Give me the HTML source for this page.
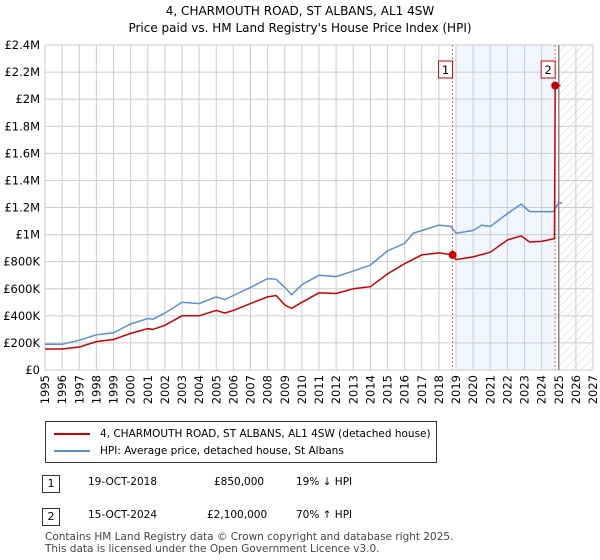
<!DOCTYPE html>
<html><head><meta charset="utf-8"><style>
body{margin:0;background:#fff;font-family:"DejaVu Sans","Liberation Sans",sans-serif;}
#wrap{position:relative;width:600px;height:560px;overflow:hidden}
.t{position:absolute;font-size:11px;color:#000}
</style></head><body><div id="wrap">
<svg id="c" width="600" height="410" style="position:absolute;left:0;top:0;font-family:'DejaVu Sans','Liberation Sans',sans-serif"></svg>
<div style="position:absolute;left:45px;top:421px;width:392px;height:42px;border:1px solid #333;box-sizing:border-box">
 <div style="position:absolute;left:8px;top:6px;font-size:10.5px;white-space:nowrap"><span style="display:inline-block;width:36px;border-top:2px solid #cc0000;vertical-align:middle;margin-right:10px"></span>4, CHARMOUTH ROAD, ST ALBANS, AL1 4SW (detached house)</div>
 <div style="position:absolute;left:8px;top:23px;font-size:10.5px;white-space:nowrap"><span style="display:inline-block;width:36px;border-top:2px solid #5b8fd4;vertical-align:middle;margin-right:10px"></span>HPI: Average price, detached house, St Albans</div>
</div>
<div>
<div style="position:absolute;left:42px;top:475px;width:16px;height:16px;border:1px solid #333;font-size:11px;text-align:center;line-height:16px">1</div>
<div class="t" style="left:88px;top:476px;font-size:10.5px">19-OCT-2018</div>
<div class="t" style="left:214px;top:476px;font-size:10.5px">£850,000</div>
<div class="t" style="left:296px;top:476px;font-size:10.5px">19% ↓ HPI</div></div>
<div>
<div style="position:absolute;left:42px;top:508px;width:16px;height:16px;border:1px solid #333;font-size:11px;text-align:center;line-height:16px">2</div>
<div class="t" style="left:88px;top:509px;font-size:10.5px">15-OCT-2024</div>
<div class="t" style="left:207px;top:509px;font-size:10.5px">£2,100,000</div>
<div class="t" style="left:296px;top:509px;font-size:10.5px">70% ↑ HPI</div></div>
<div class="t" style="left:45px;top:531px;font-size:10.5px;color:#444;line-height:12px">Contains HM Land Registry data © Crown copyright and database right 2025.<br>This data is licensed under the Open Government Licence v3.0.</div>
</div>
<script>
const hpiYears=[1995,1996,1997,1998,1999,2000,2001,2001.3,2002,2003,2004,2005,2005.5,2006,2007,2008,2008.5,2009,2009.4,2010,2011,2012,2013,2014,2015,2016,2016.5,2017,2018,2018.7,2019,2020,2020.5,2021,2022,2022.8,2023.3,2024,2024.7,2025,2025.2];
const hpiValues=[0.19,0.19,0.22,0.26,0.275,0.34,0.38,0.375,0.42,0.50,0.49,0.54,0.52,0.55,0.61,0.675,0.67,0.61,0.555,0.63,0.70,0.69,0.73,0.775,0.88,0.935,1.01,1.03,1.07,1.06,1.01,1.03,1.07,1.06,1.155,1.225,1.17,1.17,1.17,1.24,1.23];
const propYears=[1995,1996,1997,1998,1999,2000,2001,2001.3,2002,2003,2004,2005,2005.5,2006,2007,2008,2008.5,2009,2009.4,2010,2011,2012,2013,2014,2015,2016,2017,2018,2018.8,2019,2020,2021,2022,2022.8,2023.3,2024,2024.75,2024.79,2025.1];
const propValues=[0.155,0.155,0.17,0.21,0.225,0.27,0.305,0.30,0.33,0.40,0.40,0.44,0.42,0.44,0.49,0.54,0.55,0.48,0.455,0.50,0.57,0.565,0.60,0.615,0.71,0.785,0.85,0.865,0.85,0.815,0.835,0.87,0.96,0.99,0.945,0.95,0.97,2.1,2.1];
const saleYears=[2018.8,2024.79];
const saleValues=[0.85,2.1];
const saleLabels=["1","2"];
const yTicks=[0,0.2,0.4,0.6,0.8,1,1.2,1.4,1.6,1.8,2,2.2,2.4];
const yTickLabels=["£0","£200K","£400K","£600K","£800K","£1M","£1.2M","£1.4M","£1.6M","£1.8M","£2M","£2.2M","£2.4M"];
const xTicks=[1995,1996,1997,1998,1999,2000,2001,2002,2003,2004,2005,2006,2007,2008,2009,2010,2011,2012,2013,2014,2015,2016,2017,2018,2019,2020,2021,2022,2023,2024,2025,2026,2027];
const X0=45,X1=593,Y0=370,Y1=45;
const sx=y=>X0+(y-1995)/32*(X1-X0);
const sy=v=>Y0-v/2.4*(Y0-Y1);
const svg=document.getElementById('c');const NS='http://www.w3.org/2000/svg';
function mk(t,a,p){const e=document.createElementNS(NS,t);for(const k in a)e.setAttribute(k,a[k]);(p||svg).appendChild(e);return e;}
let e;
e=mk('text',{x:300,y:15,'text-anchor':'middle','font-size':12});e.textContent='4, CHARMOUTH ROAD, ST ALBANS, AL1 4SW';


e=mk('text',{x:300,y:32,'text-anchor':'middle','font-size':12});e.textContent="Price paid vs. HM Land Registry's House Price Index (HPI)";


const defs=mk('defs',{});
const pat=mk('pattern',{id:'h',width:6,height:6,patternUnits:'userSpaceOnUse',patternTransform:'rotate(45)'},defs);
mk('line',{x1:0,y1:0,x2:0,y2:6,stroke:'#ccc','stroke-width':1},pat);
e=mk('rect',{x:sx(2019),y:Y1,width:sx(2024.79)-sx(2019),height:Y0-Y1,fill:'#f1f5fd'});


e=mk('rect',{x:sx(2025),y:Y1,width:X1-sx(2025),height:Y0-Y1,fill:'url(#h)'});


yTicks.forEach((v,i)=>{
 e=mk('line',{x1:X0,x2:X1,y1:sy(v),y2:sy(v),stroke:'#ccc'});
 
 
 e=mk('text',{x:X0-5,y:sy(v)+4,'text-anchor':'end','font-size':11.5});e.textContent=yTickLabels[i];
 
 
});
xTicks.forEach(y=>{
 e=mk('line',{x1:sx(y),x2:sx(y),y1:Y1,y2:Y0,stroke:'#ccc'});
 
 
 e=mk('text',{x:0,y:0,'text-anchor':'end','font-size':11.5,transform:`translate(${sx(y)+4},${Y0+5}) rotate(-90)`});e.textContent=y;
 
 
});
e=mk('line',{x1:sx(2025),x2:sx(2025),y1:Y1,y2:Y0,stroke:'#888','stroke-width':1.5});


saleYears.forEach(y=>{e=mk('line',{x1:sx(y),x2:sx(y),y1:Y1,y2:Y0,stroke:'#e06060','stroke-dasharray':'2,2'});
 
 });
const pts=(xs,vs)=>xs.map((y,i)=>sx(y).toFixed(1)+','+sy(vs[i]).toFixed(1)).join(' ');
e=mk('polyline',{points:pts(hpiYears,hpiValues),fill:'none',stroke:'#5b8fd4','stroke-width':1.5});


e=mk('polyline',{points:pts(propYears,propValues),fill:'none',stroke:'#cc0000','stroke-width':1.5});


saleYears.forEach((y,i)=>{
 e=mk('circle',{cx:sx(y),cy:sy(saleValues[i]),r:4,fill:'#cc0000'});
 
 
 e=mk('rect',{x:sx(y)-14,y:61,width:14,height:17,fill:'#fff',stroke:'#cc0000'});
 
 
 e=mk('text',{x:sx(y)-7,y:74,'text-anchor':'middle','font-size':11.5});e.textContent=saleLabels[i];
 
 
});
</script>
</body></html>
